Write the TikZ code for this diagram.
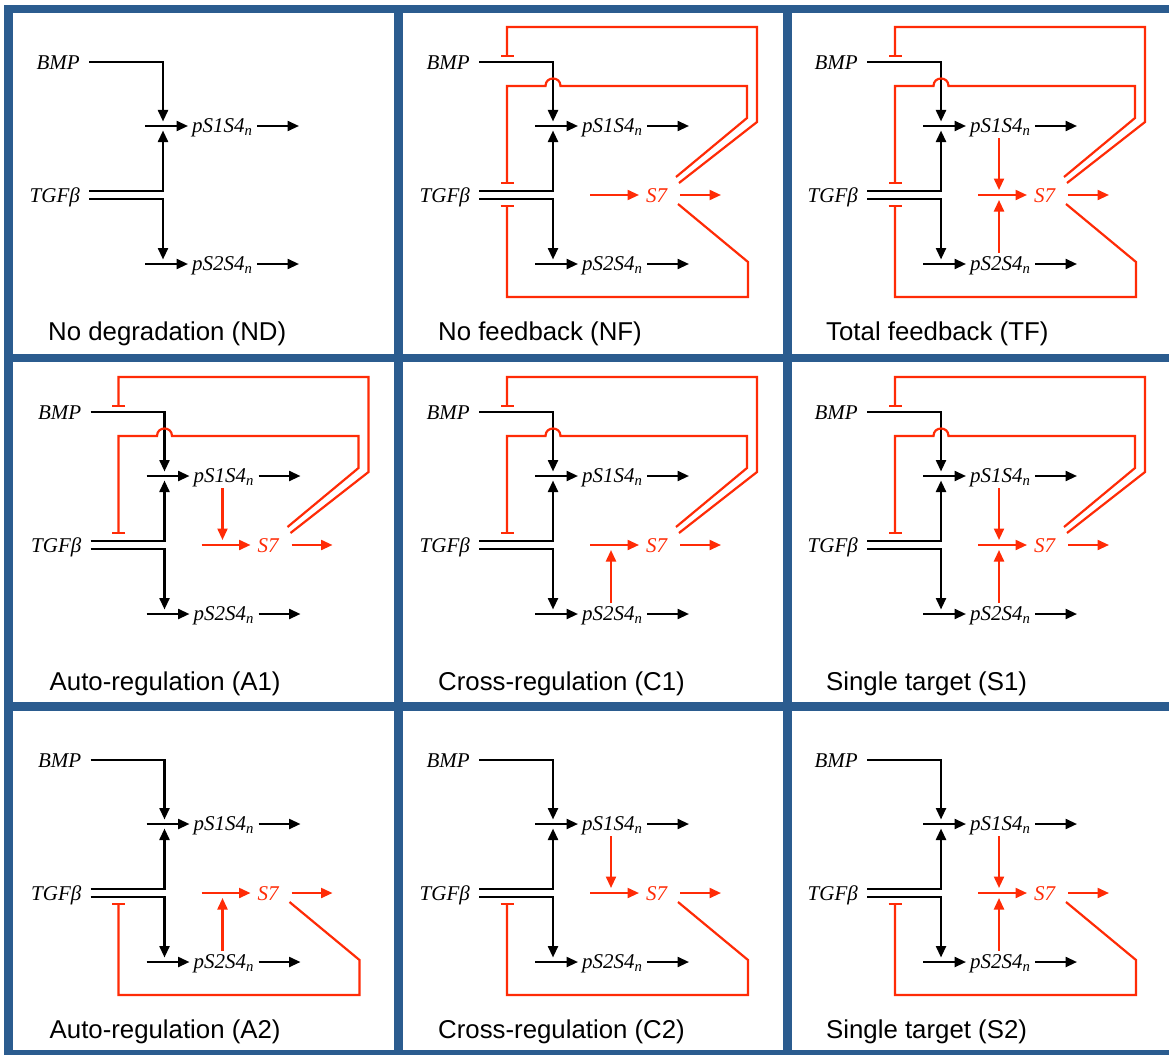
\documentclass[tikz,border=0pt]{standalone}
\usepackage{fontspec}
\setmainfont{Liberation Serif}
\newfontfamily\capfont{Liberation Sans}
\usetikzlibrary{arrows.meta}
\definecolor{gridblue}{HTML}{2B5C8F}
\definecolor{fbred}{HTML}{FF2B06}
\tikzset{
  blk/.style={line width=2.3pt, black},
  rd/.style={line width=2.2pt, fbred},
  arrowhd/.style={-{Triangle[length=11.5pt,width=10pt]}},
  tbar/.style={-{Bar[width=13pt]}},
  lbl/.style={font=\fontsize{21}{21}\selectfont\itshape, inner sep=0pt},
  captext/.style={font=\capfont\fontsize{25.8}{26}\selectfont, inner sep=0pt, anchor=base west},
  bluegrid/.style={line width=8.5pt, gridblue},
}
\newcommand\corepanel[1]{%
  \node[lbl, anchor=base east] (bmp) at (80,69.5) {BMP};
  \node[lbl, anchor=base east] (tgf) at (80,202) {TGFβ};
  \node[lbl, anchor=base west] (ps1) at (192,132.5) {pS1S4\textsubscript{n}};
  \node[lbl, anchor=base west] (ps2) at (192,270.5) {pS2S4\textsubscript{n}};
  \node[captext] (caption) at (48,340) {#1};
  \coordinate (b0) at (89,62);  \coordinate (b1) at (163,62);  \coordinate (b2) at (163,121.5);
  \coordinate (u0) at (89,191); \coordinate (u1) at (163,191); \coordinate (u2) at (163,130.5);
  \coordinate (d0) at (89,199); \coordinate (d1) at (163,199); \coordinate (d2) at (163,259.5);
  \coordinate (i1a) at (145,126); \coordinate (i1b) at (188,126);
  \coordinate (i2a) at (145,264); \coordinate (i2b) at (188,264);
  \coordinate (o1a) at (257,126); \coordinate (o1b) at (299,126);
  \coordinate (o2a) at (257,264); \coordinate (o2b) at (299,264);
  \draw[blk,arrowhd] (b0) -- (b1) -- (b2);
  \draw[blk,arrowhd] (u0) -- (u1) -- (u2);
  \draw[blk,arrowhd] (d0) -- (d1) -- (d2);
  \draw[blk,arrowhd] (i1a) -- (i1b);
  \draw[blk,arrowhd] (i2a) -- (i2b);
  \draw[blk,arrowhd] (o1a) -- (o1b);
  \draw[blk,arrowhd] (o2a) -- (o2b);
}
\newcommand\sevenpart{%
  \node[lbl, anchor=base west, text=fbred] (s7) at (256,202) {S7};
  \coordinate (sia) at (200,195); \coordinate (sib) at (249,195);
  \coordinate (soa) at (290,195); \coordinate (sob) at (331,195);
  \draw[rd,arrowhd] (sia) -- (sib);
  \draw[rd,arrowhd] (soa) -- (sob);
}
\newcommand\fromone{%
  \coordinate (fa) at (221,138); \coordinate (fb) at (221,190);
  \draw[rd,arrowhd] (fa) -- (fb);
}
\newcommand\fromtwo{%
  \coordinate (ga) at (221,253); \coordinate (gb) at (221,200);
  \draw[rd,arrowhd] (ga) -- (gb);
}
\newcommand\toploops{%
  \coordinate (oa) at (289,183); \coordinate (ob) at (367,122);
  \coordinate (oc) at (367,27);  \coordinate (od) at (117,27); \coordinate (oe) at (117,57);
  \draw[rd,tbar] (oa) -- (ob) -- (oc) -- (od) -- (oe);
  \coordinate (ia) at (286,177); \coordinate (ib) at (357,118);
  \coordinate (ic) at (357,86);  \coordinate (hr) at (170.5,86);
  \coordinate (hrc) at (170.5,76); \coordinate (hlc) at (155.5,76);
  \coordinate (hl) at (155.5,86); \coordinate (id) at (117,86); \coordinate (ie) at (117,184);
  \draw[rd,tbar] (ia) -- (ib) -- (ic) -- (hr) .. controls (hrc) and (hlc) .. (hl) -- (id) -- (ie);
}
\newcommand\bottomloop{%
  \coordinate (la) at (288,204); \coordinate (lb) at (358,262);
  \coordinate (lc) at (358,297); \coordinate (ld) at (117,297); \coordinate (le) at (117,205);
  \draw[rd,tbar] (la) -- (lb) -- (lc) -- (ld) -- (le);
}
\begin{document}
\begin{tikzpicture}[x=1pt,y=-1pt]
\useasboundingbox[fill=white] (0,0) rectangle (1169,1054);
% panels
\begin{scope}[shift={(0,0)}, name prefix=nd-]
  \corepanel{No degradation (ND)}
\end{scope}
\begin{scope}[shift={(390,0)}, name prefix=nf-]
  \corepanel{No feedback (NF)}\sevenpart\toploops\bottomloop
\end{scope}
\begin{scope}[shift={(778,0)}, name prefix=tf-]
  \corepanel{Total feedback (TF)}\sevenpart\fromone\fromtwo\toploops\bottomloop
\end{scope}
\begin{scope}[shift={(1.5,350)}, name prefix=aa-]
  \corepanel{Auto-regulation (A1)}\sevenpart\fromone\toploops
\end{scope}
\begin{scope}[shift={(390,350)}, name prefix=ca-]
  \corepanel{Cross-regulation (C1)}\sevenpart\fromtwo\toploops
\end{scope}
\begin{scope}[shift={(778,350)}, name prefix=sa-]
  \corepanel{Single target (S1)}\sevenpart\fromone\fromtwo\toploops
\end{scope}
\begin{scope}[shift={(1.5,698)}, name prefix=ab-]
  \corepanel{Auto-regulation (A2)}\sevenpart\fromtwo\bottomloop
\end{scope}
\begin{scope}[shift={(390,698)}, name prefix=cb-]
  \corepanel{Cross-regulation (C2)}\sevenpart\fromone\bottomloop
\end{scope}
\begin{scope}[shift={(778,698)}, name prefix=sb-]
  \corepanel{Single target (S2)}\sevenpart\fromone\fromtwo\bottomloop
\end{scope}
% blue frame grid
\draw[bluegrid] (8.5,9) rectangle (1177,1054.5);
\draw[bluegrid] (398.5,9) -- (398.5,1054.5);
\draw[bluegrid] (787.5,9) -- (787.5,1054.5);
\draw[bluegrid] (8.5,358) -- (1177,358);
\draw[bluegrid] (8.5,706.5) -- (1177,706.5);
\end{tikzpicture}
\end{document}
